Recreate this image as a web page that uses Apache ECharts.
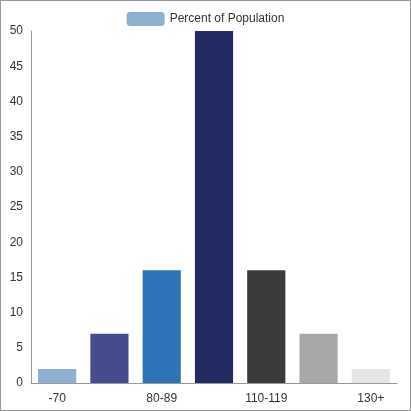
<!DOCTYPE html>
<html><head><meta charset="utf-8">
<script src="https://cdn.jsdelivr.net/npm/echarts@6/dist/echarts.min.js"></script>
<style>html,body{margin:0;padding:0;background:#fff}#c{width:409px;height:409px;border:1px solid #999}</style>
</head><body><div id="c"></div>
<script>
const categories = ["-70","70-79","80-89","90-109","110-119","120-129","130+"];
const values = [2,7,16,50,16,7,2];
const colors = ["#8eb0d0","#454c8e","#2e72b8","#222b62","#3b3b3b","#a8a8a8","#e5e5e5"];
const yTicks = {min:0,max:50,interval:5};
const chart = echarts.init(document.getElementById('c'));
chart.setOption({
  animation:false,
  textStyle:{fontFamily:'Liberation Sans'},
  legend:{top:6,left:'center',itemWidth:38,itemHeight:14,itemGap:10,
    textStyle:{fontSize:12,color:'#333'},data:['Percent of Population']},
  grid:{left:30,right:13,top:30,bottom:27},
  xAxis:{type:'category',data:categories,
    axisLine:{lineStyle:{color:'#999'}},axisTick:{show:false},
    axisLabel:{color:'#333',fontSize:12,margin:10}},
  yAxis:{type:'value',min:yTicks.min,max:yTicks.max,interval:yTicks.interval,
    axisLine:{show:true,lineStyle:{color:'#999'}},axisTick:{show:false},splitLine:{show:false},
    axisLabel:{color:'#333',fontSize:12,margin:8}},
  series:[{name:'Percent of Population',type:'bar',barWidth:'73%',
    itemStyle:{color:'#8eb0d0'},
    data:values.map((v,i)=>({value:v,itemStyle:{color:colors[i]}}))}]
});
</script></body></html>
